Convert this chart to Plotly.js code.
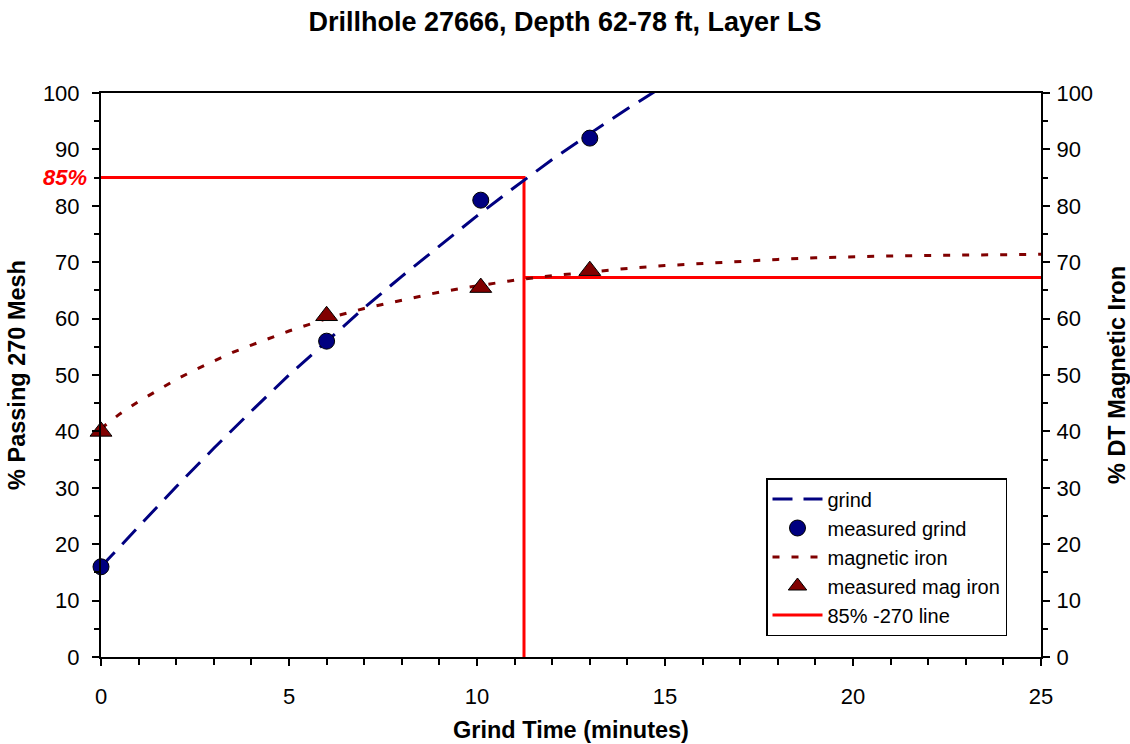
<!DOCTYPE html>
<html>
<head>
<meta charset="utf-8">
<script src="https://cdn.plot.ly/plotly-3.0.1.min.js"></script>
<style>
html,body{margin:0;padding:0;background:#fff;}
#chart{width:1130px;height:744px;}
</style>
</head>
<body>
<div id="chart"></div>
<script>
// Measured data
const measuredTime = [0, 6, 10.1, 13];
const measuredGrind = [16, 56, 81, 92];
const measuredMagIron = [40, 60.5, 65.5, 68.5];

// Fitted grind curve
const grindCurveTime = [0, 1, 2, 3, 4, 5, 6, 7, 8, 9, 10, 11, 12, 13, 14, 15];
const grindCurveValue = [16, 23.1, 30.2, 37.0, 43.6, 50.0, 56.0, 61.9, 67.5, 72.9, 78.2, 83.3, 88.2, 92.8, 97.2, 101.4];

// Fitted magnetic iron curve
const magCurveTime = [0, 0.5, 1, 1.5, 2, 2.5, 3, 3.5, 4, 4.5, 5, 5.5, 6, 7, 8, 9, 10, 11, 12, 13, 14, 15, 16, 17, 18, 19, 20, 21, 22, 23, 24, 25];
const magCurveValue = [40.5, 43.1, 45.3, 47.3, 49.2, 50.9, 52.5, 54.0, 55.3, 56.6, 57.8, 58.9, 60.0, 61.8, 63.3, 64.7, 65.8, 66.8, 67.6, 68.3, 68.9, 69.4, 69.8, 70.2, 70.5, 70.8, 71.0, 71.1, 71.2, 71.3, 71.4, 71.4];

// 85% -270 line
const target = 85;
const targetTime = 11.25;
const targetMagIron = 67.3;
const xMax = 25;
const refLineX = [0, targetTime, targetTime, null, targetTime, xMax];
const refLineY = [target, target, 0, null, targetMagIron, targetMagIron];

const FONT = 'Liberation Sans, Arial, sans-serif';

const traces = [
  {
    x: refLineX, y: refLineY, mode: 'lines', name: '85% -270 line',
    line: {color: '#FF0000', width: 3}, connectgaps: false, legendrank: 5
  },
  {
    x: grindCurveTime, y: grindCurveValue, mode: 'lines', name: 'grind',
    line: {color: '#000080', width: 3, dash: '20px,11px'}, legendrank: 1
  },
  {
    x: measuredTime, y: measuredGrind, mode: 'markers', name: 'measured grind',
    marker: {symbol: 'circle', size: 16, color: '#000080', line: {color: '#000000', width: 1}},
    cliponaxis: false, legendrank: 2
  },
  {
    x: magCurveTime, y: magCurveValue, mode: 'lines', name: 'magnetic iron', yaxis: 'y2',
    line: {color: '#800000', width: 3, dash: '7px,12px'}, legendrank: 3
  },
  {
    x: measuredTime, y: measuredMagIron, mode: 'markers', name: 'measured mag iron', yaxis: 'y2',
    marker: {symbol: 'triangle-up', size: 19, color: '#800000', line: {color: '#000000', width: 1}},
    cliponaxis: false, legendrank: 4
  }
];

const axisCommon = {
  showgrid: false, zeroline: false, showline: true, linecolor: '#000', linewidth: 2,
  ticks: 'outside', ticklen: 7, tickwidth: 2, tickcolor: '#000',
  tickfont: {family: FONT, size: 22, color: '#000'}
};

const titleFont = {family: FONT, size: 23.5, color: '#000', weight: 'bold'};

const layout = {
  width: 1130, height: 744,
  paper_bgcolor: '#fff', plot_bgcolor: '#fff',
  margin: {l: 101, r: 89, t: 93, b: 87},
  title: {
    text: 'Drillhole 27666, Depth 62-78 ft, Layer LS',
    font: {family: FONT, size: 27, color: '#000', weight: 'bold'},
    x: 0.5, xanchor: 'center', y: 1 - 22/744, yref: 'container', yanchor: 'middle'
  },
  xaxis: Object.assign({}, axisCommon, {
    range: [0, 25], dtick: 5, tick0: 0, mirror: true,
    minor: {dtick: 1, ticks: 'outside', ticklen: 6, tickwidth: 2, tickcolor: '#000'},
    ticklabelstandoff: 12,
    title: {text: 'Grind Time (minutes)', font: titleFont, standoff: 13}
  }),
  yaxis: Object.assign({}, axisCommon, {
    range: [0, 100], dtick: 10, tick0: 0,
    minor: {dtick: 5, ticks: 'outside', ticklen: 5, tickwidth: 2, tickcolor: '#000'},
    ticklabelstandoff: 8,
    title: {text: '% Passing 270 Mesh', font: titleFont, standoff: 11}
  }),
  yaxis2: Object.assign({}, axisCommon, {
    range: [0, 100], dtick: 10, tick0: 0, overlaying: 'y', side: 'right',
    minor: {dtick: 5, ticks: 'outside', ticklen: 5, tickwidth: 2, tickcolor: '#000'},
    ticklabelstandoff: 2,
    title: {text: '% DT Magnetic Iron', font: titleFont, standoff: 19}
  }),
  legend: {
    x: (766 - 101) / 940, y: (657 - 478) / 564, xanchor: 'left', yanchor: 'top',
    bgcolor: '#fff', bordercolor: '#000', borderwidth: 1.5,
    font: {family: FONT, size: 20, color: '#000'},
    tracegroupgap: 0, itemwidth: 50
  },
  annotations: [{
    text: '<b><i>85%</i></b>', xref: 'paper', x: 0, xanchor: 'right', xshift: -12,
    yref: 'y', y: target, yanchor: 'middle', showarrow: false,
    font: {family: FONT, size: 22, color: '#FF0000'}
  }],
  showlegend: true
};

Plotly.newPlot('chart', traces, layout, {displayModeBar: false, staticPlot: true});
</script>
</body>
</html>
